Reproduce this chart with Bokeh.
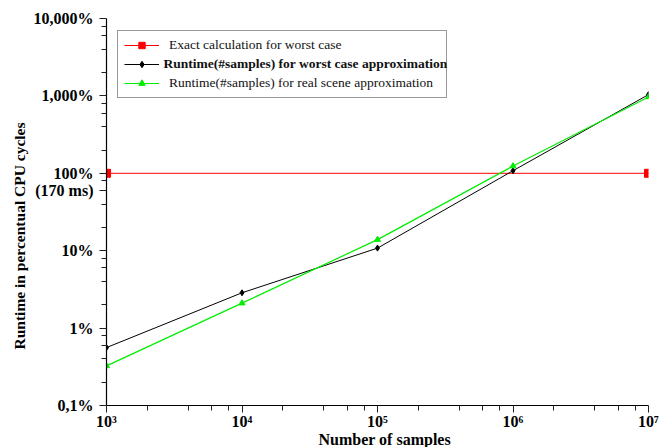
import math
from bokeh.plotting import figure
from bokeh.models import (FixedTicker, Legend, LegendItem, Label, Title,
                          CustomJSTickFormatter)
from bokeh.embed import file_html
from bokeh.resources import INLINE

# ---- data ----
samples = [1e3, 1e4, 1e5, 1e6, 1e7]
exact_x = [1e3, 1e7]
exact_worst = [100, 100]
worst_case = [0.56, 2.86, 10.8, 108, 1040]
real_scene = [0.325, 2.1, 13.9, 124, 968]

y_ticks = [0.1, 1, 10, 100, 1000, 10000]
y_tick_labels = ["0,1%", "1%", "10%", "100%", "1,000%", "10,000%"]
note_tick = [60]
note_label = ["(170 ms)"]
x_ticks = [1e3, 1e4, 1e5, 1e6, 1e7]
x_tick_labels = ["10³", "10⁴", "10⁵", "10⁶", "10⁷"]
minor_mult = [2, 4, 6, 8]

series_names = ["Exact calculation for worst case",
                "Runtime(#samples) for worst case approximation",
                "Runtime(#samples) for real scene approximation"]

FONT = "Liberation Serif"

p = figure(width=660, height=447, x_axis_type="log", y_axis_type="log",
           x_range=(1e3, 1e7), y_range=(0.1, 10000),
           output_backend="svg", toolbar_location=None,
           min_border_left=106, min_border_right=12, min_border_top=18,
           min_border_bottom=41)
p.outline_line_color = None
p.xgrid.visible = False
p.ygrid.visible = False
p.background_fill_color = "white"

y_minor = [m * t for t in y_ticks[:-1] for m in minor_mult]
x_minor = [m * t for t in x_ticks[:-1] for m in minor_mult]
p.yaxis.ticker = FixedTicker(ticks=y_ticks + note_tick, minor_ticks=y_minor)
p.xaxis.ticker = FixedTicker(ticks=x_ticks, minor_ticks=x_minor)

JS = """
for (let i = 0; i < vals.length; i++) {
  if (Math.abs(Math.log10(tick) - Math.log10(vals[i])) < 1e-6) return labels[i];
}
return "";
"""
p.yaxis.formatter = CustomJSTickFormatter(
    args=dict(vals=y_ticks + note_tick, labels=y_tick_labels + note_label), code=JS)
p.xaxis.formatter = CustomJSTickFormatter(
    args=dict(vals=x_ticks, labels=x_tick_labels), code=JS)

for ax in (p.xaxis[0], p.yaxis[0]):
    ax.axis_line_color = "black"
    ax.axis_line_width = 1.2
    ax.major_tick_in = 0
    ax.major_tick_out = 7
    ax.minor_tick_in = 0
    ax.minor_tick_out = 5
    ax.major_tick_line_color = "#222"
    ax.minor_tick_line_color = "#222"
    ax.major_label_text_font = FONT
    ax.major_label_text_font_style = "bold"
    ax.major_label_text_font_size = "16px"
    ax.major_label_text_color = "black"
p.yaxis.major_label_standoff = 6
p.xaxis.major_label_standoff = 0
p.yaxis.major_label_orientation = "horizontal"

# ---- series ----
r_red_l = p.line(exact_x, exact_worst, line_color="#ff0000", line_width=1)
r_red_m = p.scatter(exact_x, exact_worst, marker="square", size=8,
                    fill_color="#ff0000", line_color="#ff0000")
r_blk_l = p.line(samples, worst_case, line_color="black", line_width=1)
r_blk_m = p.scatter(samples, worst_case, marker="diamond", size=6,
                    fill_color="black", line_color="black")
r_grn_l = p.line(samples, real_scene, line_color="#00ee00", line_width=1.2)
r_grn_m = p.scatter(samples, real_scene, marker="triangle", size=6,
                    fill_color="#00ee00", line_color="#00ee00")

# ---- legend ----
leg = Legend(items=[
    LegendItem(label=series_names[0], renderers=[r_red_l, r_red_m]),
    LegendItem(label=" ", renderers=[r_blk_l, r_blk_m]),
    LegendItem(label=series_names[2], renderers=[r_grn_l, r_grn_m]),
], location=(11, 307))
leg.label_text_font = FONT
leg.label_text_font_size = "13.5px"
leg.label_text_color = "#111"
leg.label_height = 16
leg.glyph_height = 16
leg.glyph_width = 35
leg.label_standoff = 10
leg.spacing = 3
leg.padding = 6
leg.margin = 0
leg.label_text_baseline = "middle"
leg.label_width = 271
leg.border_line_color = "#333"
leg.border_line_width = 1.2
leg.background_fill_alpha = 0
p.add_layout(leg)

# bold label for the second legend row (inside the frame)
p.add_layout(Label(x=57, y=342, x_units="screen", y_units="screen",
                   text=series_names[1], text_align="left", text_baseline="middle",
                   text_font=FONT, text_font_size="13.5px", text_font_style="bold",
                   text_color="#111", level="overlay"))

# ---- axis titles ----
p.add_layout(Title(text="Number of samples", align="left", offset=212, standoff=-4,
                   vertical_align="top",
                   text_font=FONT, text_font_size="16px", text_font_style="bold",
                   text_color="black"), "below")
p.add_layout(Title(text="Runtime in percentual CPU cycles", align="left", offset=56,
                   standoff=6, text_font=FONT, text_font_size="15.5px",
                   text_font_style="bold", text_color="black"), "left")

open("out.html", "w").write(file_html(p, INLINE))
